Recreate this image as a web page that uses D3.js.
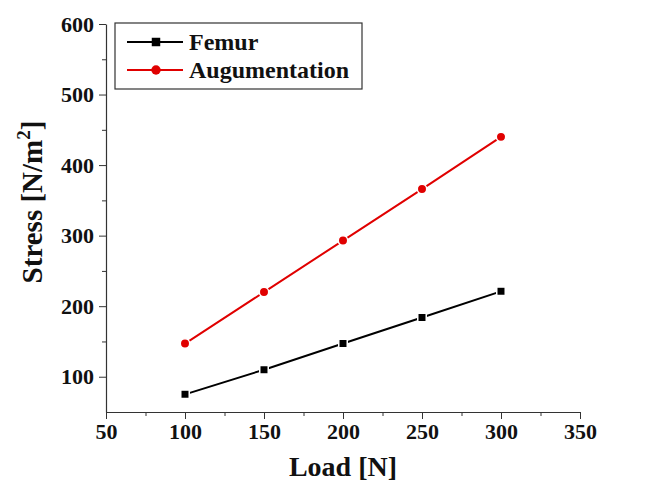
<!DOCTYPE html>
<html>
<head>
<meta charset="utf-8">
<script src="https://cdn.jsdelivr.net/npm/d3@7"></script>
<style>
  body { margin: 0; background: #fff; }
  text { font-family: "Liberation Serif", "Times New Roman", serif; font-weight: bold; }
</style>
</head>
<body>
<div id="chart"></div>
<script>
const loads = [100, 150, 200, 250, 300];
const femur = [75, 110, 147, 184, 221];
const augmentation = [147, 220, 293, 366, 440];
const xTicks = [50, 100, 150, 200, 250, 300, 350];
const yTicks = [100, 200, 300, 400, 500, 600];

const W = 666, H = 482;
const margin = {top: 24, right: 86, bottom: 70, left: 106};
const width = W - margin.left - margin.right;
const height = H - margin.top - margin.bottom;

const svg = d3.select("#chart").append("svg")
    .attr("width", W)
    .attr("height", H)
    .append("g")
    .attr("transform", `translate(${margin.left},${margin.top})`);

const x = d3.scaleLinear().domain([50, 350]).range([0, width]);
const y = d3.scaleLinear().domain([50, 600]).range([height, 0]);

// minor ticks first
svg.append("g")
    .attr("transform", `translate(0,${height})`)
    .call(d3.axisBottom(x).tickValues(d3.range(75, 350, 50)).tickSize(4).tickFormat(""))
    .call(g => g.select(".domain").remove())
    .selectAll("line").attr("stroke", "#333");

svg.append("g")
    .call(d3.axisLeft(y).tickValues(d3.range(150, 600, 100)).tickSize(4).tickFormat(""))
    .call(g => g.select(".domain").remove())
    .selectAll("line").attr("stroke", "#333");

const xAxis = svg.append("g")
    .attr("transform", `translate(0,${height})`)
    .call(d3.axisBottom(x).tickValues(xTicks).tickSize(7).tickPadding(4).tickSizeOuter(0));
xAxis.select(".domain").attr("stroke", "#333").attr("stroke-width", 1.2);
xAxis.selectAll("line").attr("stroke", "#333");
xAxis.selectAll("text").attr("font-size", "22px").attr("fill", "#111");

const yAxis = svg.append("g")
    .call(d3.axisLeft(y).tickValues(yTicks).tickSize(7).tickPadding(5).tickSizeOuter(0));
yAxis.select(".domain").attr("stroke", "#333").attr("stroke-width", 1.2);
yAxis.selectAll("line").attr("stroke", "#333");
yAxis.selectAll("text").attr("font-size", "22px").attr("fill", "#111");

svg.append("text")
    .attr("x", width / 2)
    .attr("y", height + 64)
    .attr("text-anchor", "middle")
    .attr("font-size", "28px")
    .attr("fill", "#111")
    .text("Load [N]");

svg.append("text")
    .attr("transform", `translate(${-64},${178}) rotate(-90)`)
    .attr("text-anchor", "middle")
    .attr("font-size", "29px")
    .attr("fill", "#111")
    .html('Stress [N/m<tspan dy="-12" font-size="19px">2</tspan><tspan dy="12">]</tspan>');

const series = [
    {name: "Femur", values: femur, color: "#000", shape: d3.symbolSquare},
    {name: "Augumentation", values: augmentation, color: "#e00000", shape: d3.symbolCircle}
];

const line = d3.line()
    .x(d => x(d[0]))
    .y(d => y(d[1]));

series.forEach(s => {
    const pts = loads.map((l, i) => [l, s.values[i]]);
    svg.append("path")
        .datum(pts)
        .attr("fill", "none")
        .attr("stroke", s.color)
        .attr("stroke-width", 2)
        .attr("d", line);

    svg.selectAll(null)
        .data(pts)
        .enter().append("path")
        .attr("transform", d => `translate(${x(d[0])},${y(d[1])})`)
        .attr("d", d3.symbol().type(s.shape).size(s.shape === d3.symbolSquare ? 72 : 70))
        .attr("fill", s.color)
        .attr("stroke", "#fff")
        .attr("stroke-width", 1.5);
});

// legend
const legend = svg.append("g").attr("transform", "translate(9,-1)");
legend.append("rect")
    .attr("width", 247)
    .attr("height", 66)
    .attr("fill", "#fff")
    .attr("stroke", "#333")
    .attr("stroke-width", 1.2);

series.forEach((s, i) => {
    const row = legend.append("g").attr("transform", `translate(0,${19 + i * 28})`);
    row.append("line")
        .attr("x1", 12).attr("x2", 68)
        .attr("stroke", s.color).attr("stroke-width", 2);
    row.append("path")
        .attr("transform", "translate(41,0)")
        .attr("d", d3.symbol().type(s.shape).size(s.shape === d3.symbolSquare ? 72 : 70))
        .attr("fill", s.color);
    row.append("text")
        .attr("x", 74)
        .attr("dy", "0.35em")
        .attr("font-size", "24px")
        .attr("fill", "#111")
        .text(s.name);
});
</script>
</body>
</html>
